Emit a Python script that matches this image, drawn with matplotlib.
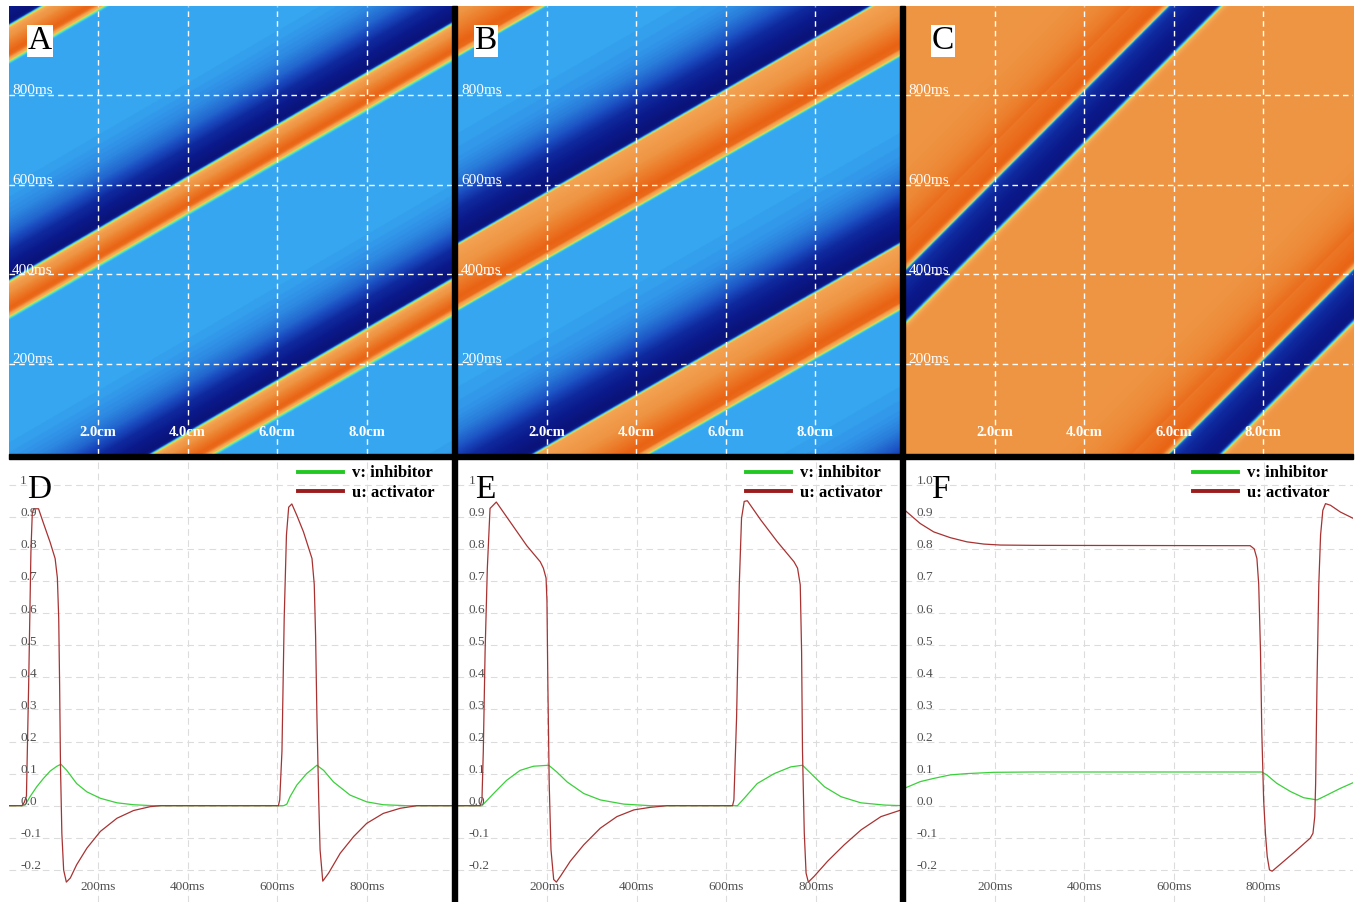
import numpy as np
import matplotlib
matplotlib.use('Agg')
import matplotlib.pyplot as plt
from matplotlib.colors import LinearSegmentedColormap
from matplotlib.lines import Line2D
from matplotlib.patches import Rectangle

plt.rcParams['font.family'] = ['Liberation Serif', 'DejaVu Serif']

d_time_u = [0, 30, 35, 40, 45, 50, 53, 56, 67, 78, 93, 104, 109, 112, 114, 116, 119, 123, 129, 138,
            152, 175, 205, 242, 279, 316, 338, 602, 605, 610, 615, 620, 625, 632, 643, 658, 677, 682,
            685, 688, 692, 695, 701, 714, 740, 770, 799, 836, 874, 911, 995]
d_u = [0, 0, 0.01, 0.03, 0.38, 0.79, 0.91, 0.925, 0.925, 0.88, 0.82, 0.77, 0.71, 0.585, 0.38, 0.12,
       -0.086, -0.2, -0.238, -0.225, -0.184, -0.132, -0.08, -0.039, -0.015, -0.003, 0, 0, 0.018, 0.17,
       0.585, 0.843, 0.93, 0.94, 0.905, 0.853, 0.77, 0.69, 0.53, 0.276, 0.018, -0.137, -0.235, -0.21,
       -0.148, -0.096, -0.055, -0.024, -0.008, 0, 0]
d_time_v = [0, 30, 37, 48, 63, 78, 93, 108, 117, 130, 152, 175, 205, 242, 279, 323, 614, 621, 628,
            643, 665, 688, 703, 725, 762, 799, 836, 889, 995]
d_v = [0, 0, 0.002, 0.028, 0.059, 0.085, 0.108, 0.123, 0.129, 0.11, 0.069, 0.043, 0.023, 0.009, 0.003,
       0, 0, 0.005, 0.028, 0.064, 0.1, 0.126, 0.11, 0.074, 0.033, 0.012, 0.003, 0, 0]

e_time_u = [0, 51, 55, 58, 62, 67, 73, 87, 118, 155, 185, 192, 198, 200, 202, 205, 209, 215, 221, 230,
            252, 282, 319, 356, 394, 431, 468, 614, 617, 623, 629, 634, 640, 647, 677, 714, 751, 759,
            765, 768, 770, 774, 778, 783, 796, 826, 863, 901, 945, 995]
e_u = [0, 0, 0.018, 0.17, 0.48, 0.74, 0.926, 0.946, 0.884, 0.81, 0.76, 0.74, 0.709, 0.637, 0.379, 0.069,
       -0.137, -0.23, -0.238, -0.22, -0.173, -0.122, -0.07, -0.034, -0.013, -0.005, 0, 0, 0.018, 0.276,
       0.688, 0.895, 0.948, 0.95, 0.89, 0.822, 0.76, 0.74, 0.688, 0.48, 0.17, -0.086, -0.21, -0.238,
       -0.22, -0.173, -0.122, -0.075, -0.034, -0.011]
e_time_v = [0, 55, 81, 110, 140, 170, 204, 222, 245, 282, 319, 371, 431, 625, 640, 669, 707, 744, 770,
            789, 819, 856, 900, 953, 995]
e_v = [0, 0, 0.038, 0.079, 0.11, 0.123, 0.126, 0.105, 0.074, 0.038, 0.018, 0.005, 0, 0, 0.023, 0.069,
       0.1, 0.121, 0.126, 0.1, 0.059, 0.028, 0.009, 0.002, 0]

f_time_u = [0, 34, 64, 101, 138, 176, 213, 287, 770, 779, 785, 789, 793, 796, 800, 804, 808, 813, 819,
            845, 875, 904, 910, 914, 916, 919, 923, 927, 932, 938, 949, 971, 1000]
f_u = [0.92, 0.879, 0.853, 0.835, 0.822, 0.815, 0.812, 0.811, 0.81, 0.8, 0.77, 0.69, 0.48, 0.224, 0.018,
       -0.086, -0.158, -0.2, -0.204, -0.173, -0.137, -0.101, -0.086, -0.034, 0.069, 0.379, 0.688, 0.843,
       0.92, 0.941, 0.936, 0.915, 0.895]
f_time_v = [0, 34, 64, 101, 138, 198, 287, 796, 807, 829, 860, 889, 919, 941, 971, 1000]
f_v = [0.055, 0.075, 0.085, 0.096, 0.1, 0.104, 0.105, 0.105, 0.096, 0.07, 0.044, 0.025, 0.018, 0.033,
       0.054, 0.072]

# --- travelling wave in the space-time panels A, B, C ---
wave_ms_per_cm = [57.9, 57.2, 100.0]
wave_period_ms = [570, 566, 1000]
wave_window_ms = [400, 0, 0]
probe_cm = [5.27, 5.30, 5.06]

space_ticks = [2, 4, 6, 8]
space_labels = ['2.0cm', '4.0cm', '6.0cm', '8.0cm']
time_ticks = [200, 400, 600, 800]
time_labels = ['200ms', '400ms', '600ms', '800ms']
u_ticks = [-0.2, -0.1, 0.0, 0.1, 0.2, 0.3, 0.4, 0.5, 0.6, 0.7, 0.8, 0.9, 1.0]
u_labels = ['-0.2', '-0.1', '0.0', '0.1', '0.2', '0.3', '0.4', '0.5', '0.6', '0.7', '0.8', '0.9', '1']
top_letters = ['A', 'B', 'C']
bottom_letters = ['D', 'E', 'F']

traces = [(d_time_u, d_u, d_time_v, d_v), (e_time_u, e_u, e_time_v, e_v), (f_time_u, f_u, f_time_v, f_v)]

# colour map for u
vmin, vmax = -0.25, 0.97
stops = [(-0.25, '#0a1276'), (-0.17, '#0b1a8c'), (-0.12, '#0f2a9e'), (-0.08, '#1a4cc0'),
         (-0.04, '#2878d8'), (-0.012, '#3298ea'), (0.0, '#36a8f0'), (0.04, '#3cc8f0'),
         (0.1, '#50e8d0'), (0.18, '#a0e860'), (0.28, '#f0e040'), (0.4, '#f6b850'),
         (0.6, '#f4aa58'), (0.75, '#f2a050'), (0.82, '#ee9442'), (0.88, '#ec7e2c'), (0.97, '#e85a0c')]
cmap = LinearSegmentedColormap.from_list('uwave', [((u - vmin) / (vmax - vmin), c) for u, c in stops])

W, H = 1358, 902
fig = plt.figure(figsize=(W / 100, H / 100), dpi=100)

col_px = [(8.5, 452.3), (457.3, 900.3), (905.0, 1353.3)]
top_px = (5.5, 453.7)
bot_px = (459.3, 902.0)
px_per_cm = 44.75
px_per_ms = 0.4483
zero_px, px_per_unit = 805.7, 321.0

top_letter_x = [0.070, 0.064, 0.085]
bot_letter_x = [0.069, 0.063, 0.079]
legend_x = [0.961, 0.960, 0.948]


def add_px_axes(x0, x1, y0, y1):
    return fig.add_axes([x0 / W, 1 - y1 / H, (x1 - x0) / W, (y1 - y0) / H])


for i in range(3):
    x0, x1 = col_px[i]
    tu, uu, tv, vv = traces[i]

    # space-time plot
    ax = add_px_axes(x0, x1, *top_px)
    xmax = (x1 - x0) / px_per_cm
    xs = np.linspace(0, xmax, 500)
    ts = np.linspace(0, 1000, 1000)
    X, T = np.meshgrid(xs, ts)
    tau = T - wave_ms_per_cm[i] * (X - probe_cm[i])
    tau = wave_window_ms[i] + np.mod(tau - wave_window_ms[i], wave_period_ms[i])
    U = np.interp(tau, tu, uu)
    ax.imshow(U, origin='lower', extent=[0, xmax, 0, 1000], aspect='auto', cmap=cmap,
              vmin=vmin, vmax=vmax, interpolation='bilinear')
    ax.set_xlim(0, xmax)
    ax.set_ylim(0, 1000)
    for xv, lab in zip(space_ticks, space_labels):
        ax.axvline(xv, color='white', lw=1.0, ls=(0, (4, 3)))
        ax.text(xv, 48, lab, color='white', fontsize=10.5, fontweight='bold', ha='center', va='center')
    for t, lab in zip(time_ticks, time_labels):
        ax.axhline(t, color='white', lw=1.0, ls=(0, (4, 3)))
        ax.text(0.08, t + 2, lab, color='white', fontsize=11, ha='left', va='baseline')
    ax.text(top_letter_x[i], 0.902, top_letters[i], transform=ax.transAxes, fontsize=24,
            ha='center', va='baseline', bbox=dict(boxstyle='square,pad=0.03', fc='white', ec='none'))
    ax.set_xticks([])
    ax.set_yticks([])
    for s in ax.spines.values():
        s.set_visible(False)

    # time traces
    ax = add_px_axes(x0, x1, *bot_px)
    ax.set_xlim(0, (x1 - x0) / px_per_ms)
    ax.set_ylim((zero_px - bot_px[1]) / px_per_unit, (zero_px - bot_px[0]) / px_per_unit)
    ax.set_xticks(time_ticks)
    ax.set_yticks(u_ticks)
    ax.grid(True, color='#dcdcdc', lw=0.8, ls=(0, (6, 4)))
    ax.tick_params(length=0, labelbottom=False, labelleft=False)
    for s in ax.spines.values():
        s.set_visible(False)
    ax.plot(tv, vv, color='#3ad03a', lw=0.9)
    ax.plot(tu, uu, color='#a83232', lw=0.9)
    for uv, lab in zip(u_ticks, u_labels):
        if i == 2 and lab == '1':
            lab = '1.0'
        ax.text(26, uv + 0.011, lab, color='#505050', fontsize=9.5, ha='left', va='center')
    for t, lab in zip(time_ticks, time_labels):
        ax.text(t, -0.253, lab, color='#505050', fontsize=9.5, ha='center', va='center')
    ax.text(bot_letter_x[i], 0.9126, bottom_letters[i], transform=ax.transAxes, fontsize=24,
            ha='center', va='baseline')
    handles = [Line2D([], [], color='#22c822', lw=2.8), Line2D([], [], color='#9b1c1c', lw=2.8)]
    ax.legend(handles, ['v: inhibitor', 'u: activator'], loc='upper right',
              bbox_to_anchor=(legend_x[i], 0.986), frameon=False,
              prop={'weight': 'bold', 'size': 12}, handlelength=2.7, handletextpad=0.55,
              labelspacing=0.2, borderpad=0, borderaxespad=0)

# black separators
for rx0, ry0, rx1, ry1 in [(452.3, 5.5, 457.3, 902), (900.3, 5.5, 905.0, 902), (8.5, 453.7, 1353.3, 459.3)]:
    fig.add_artist(Rectangle((rx0 / W, 1 - ry1 / H), (rx1 - rx0) / W, (ry1 - ry0) / H,
                             transform=fig.transFigure, color='black', zorder=10))

fig.savefig('out.png', dpi=100)
